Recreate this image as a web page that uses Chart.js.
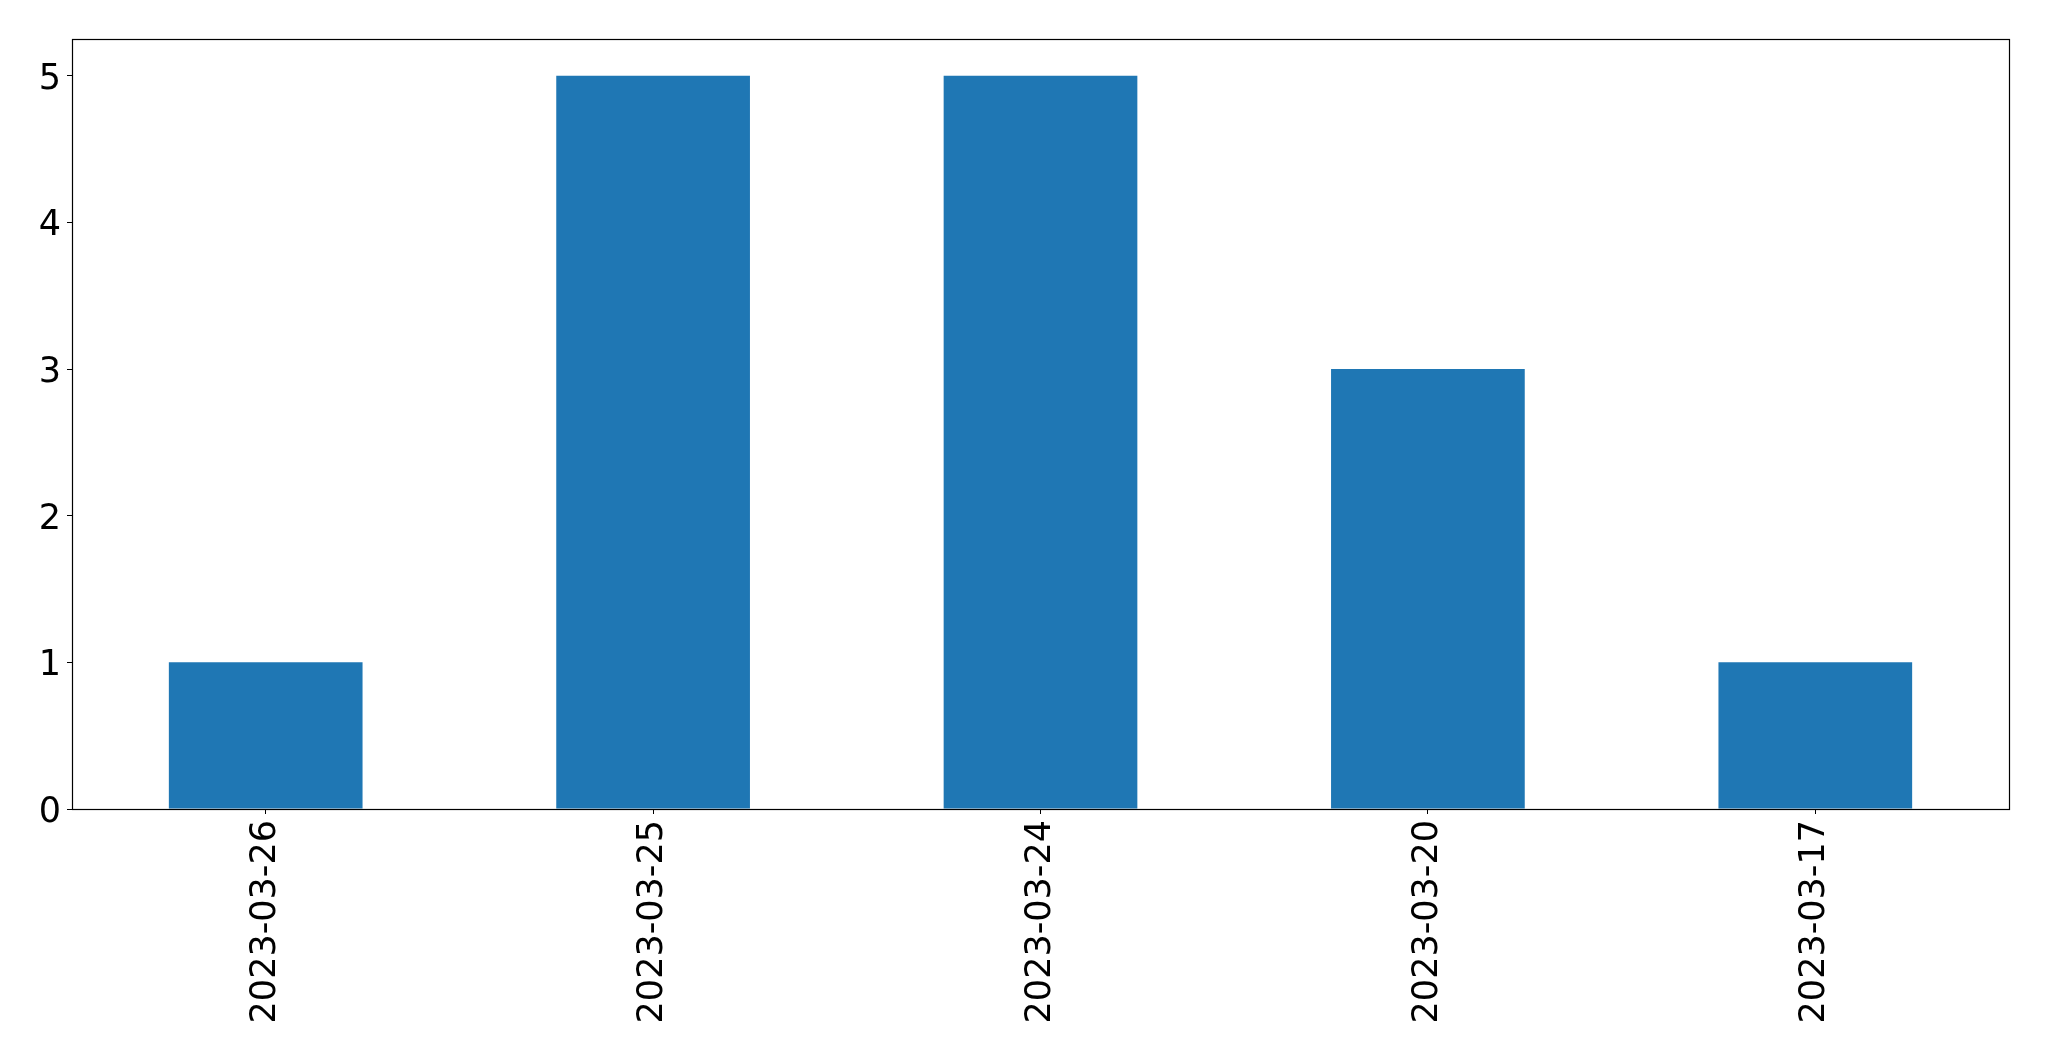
<!DOCTYPE html>
<html>
<head>
<meta charset="utf-8">
<script src="https://cdn.jsdelivr.net/npm/chart.js@4"></script>
<style>
html,body{margin:0;padding:0;background:#fff;}
#wrap{width:2049px;height:1061px;}
</style>
</head>
<body>
<div id="wrap"><canvas id="c" width="2049" height="1061"></canvas></div>
<script>
const categories = ["2023-03-26", "2023-03-25", "2023-03-24", "2023-03-20", "2023-03-17"];
const counts = [1, 5, 5, 3, 1];
const yTicks = [0, 1, 2, 3, 4, 5];

const boxPlugin = {
  id: 'box',
  afterDraw(chart) {
    const a = chart.chartArea, ctx = chart.ctx;
    ctx.save();
    ctx.strokeStyle = '#000';
    ctx.lineWidth = 1.2;
    ctx.strokeRect(Math.round(a.left) + 0.5, Math.round(a.top) + 0.5, Math.round(a.right - a.left), Math.round(a.bottom - a.top));
    ctx.restore();
  }
};

new Chart(document.getElementById('c'), {
  type: 'bar',
  data: {
    labels: categories,
    datasets: [{
      data: counts,
      backgroundColor: '#1f77b4',
      borderWidth: 0,
      categoryPercentage: 1.0,
      barPercentage: 0.5
    }]
  },
  options: {
    responsive: false,
    animation: false,
    layout: { padding: { top: 39, right: 40, left: 0, bottom: 0 } },
    plugins: { legend: { display: false }, tooltip: { enabled: false } },
    scales: {
      x: {
        grid: { display: true, offset: false, drawOnChartArea: false, drawTicks: true, tickLength: 5, color: '#000', lineWidth: 1 },
        border: { display: true, color: '#000', width: 1 },
        ticks: {
          color: '#000',
          font: { family: 'DejaVu Sans', size: 35 },
          minRotation: 90, maxRotation: 90,
          padding: 6,
          autoSkip: false
        },
        afterFit(s) { s.height = 252; }
      },
      y: {
        min: 0, max: 5.25,
        grid: { display: true, drawOnChartArea: false, drawTicks: true, tickLength: 5, color: '#000', lineWidth: 1 },
        border: { display: true, color: '#000', width: 1 },
        ticks: {
          color: '#000',
          font: { family: 'DejaVu Sans', size: 35 },
          stepSize: 1,
          padding: 6,
          labelOffset: 4
        },
        afterBuildTicks(s) { s.ticks = yTicks.map(v => ({ value: v })); },
        afterFit(s) { s.width = 72; }
      }
    }
  },
  plugins: [boxPlugin]
});
</script>
</body>
</html>
